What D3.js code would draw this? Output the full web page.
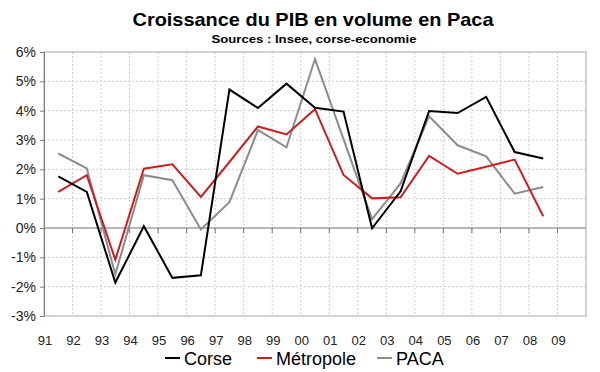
<!DOCTYPE html>
<html><head><meta charset="utf-8">
<script src="https://cdn.jsdelivr.net/npm/d3@7"></script>
<style>body{margin:0;background:#fff}svg{display:block}</style>
</head><body>
<svg id="c" width="600" height="372"></svg>
<script>
// ---- data ----
const years = ["91","92","93","94","95","96","97","98","99","00","01","02","03","04","05","06","07","08","09"];
const dataYears = ["91","92","93","94","95","96","97","98","99","00","01","02","03","04","05","06","07","08"];
const corse     = [1.76, 1.23, -1.86, 0.06, -1.70, -1.61, 4.72, 4.09, 4.92, 4.10, 3.97, -0.01, 1.25, 3.99, 3.92, 4.47, 2.59, 2.37];
const metropole = [1.23, 1.80, -1.08, 2.02, 2.17, 1.06, 2.25, 3.46, 3.19, 4.05, 1.81, 1.01, 1.05, 2.46, 1.85, 2.09, 2.33, 0.40];
const paca      = [2.54, 2.03, -1.58, 1.80, 1.63, -0.05, 0.88, 3.34, 2.75, 5.76, 3.03, 0.30, 1.52, 3.81, 2.82, 2.44, 1.17, 1.40];
const yTicks = [-3, -2, -1, 0, 1, 2, 3, 4, 5, 6];
const seriesNames = ["Corse", "Métropole", "PACA"];
const seriesColors = ["#000000", "#cc1f1f", "#8c8c8c"];
const title = "Croissance du PIB en volume en Paca";
const subtitle = "Sources : Insee, corse-economie";

// ---- layout ----
const svg = d3.select("#c");
const L = 44, R = 586, T = 52, B = 316;
const x = d3.scaleBand().domain(years).range([L, R]).padding(0);
const y = d3.scaleLinear().domain([-3, 6]).range([B, T]);
const font = "'Liberation Sans', Arial, sans-serif";

svg.append("rect").attr("width", 600).attr("height", 372).attr("fill", "#fff");

// grid
const g = svg.append("g");
g.selectAll("line.hg").data(yTicks.filter(d => d !== 0 && d !== -3 && d !== 6)).join("line")
  .attr("x1", L).attr("x2", R).attr("y1", d => y(d)).attr("y2", d => y(d))
  .attr("stroke", "#cccccc").attr("stroke-width", 1).attr("stroke-dasharray", "2,2");
g.selectAll("line.vg").data(years.slice(1)).join("line")
  .attr("x1", d => x(d)).attr("x2", d => x(d)).attr("y1", T).attr("y2", B)
  .attr("stroke", "#cccccc").attr("stroke-width", 1).attr("stroke-dasharray", "2,2");

// plot border
svg.append("rect").attr("x", L).attr("y", T).attr("width", R - L).attr("height", B - T)
  .attr("fill", "none").attr("stroke", "#a6a6a6").attr("stroke-width", 1);

// y axis
const yAxis = svg.append("g").attr("transform", `translate(${L},0)`)
  .call(d3.axisLeft(y).tickValues(yTicks).tickSize(4).tickFormat(d => d + "%"));
yAxis.select(".domain").attr("stroke", "#808080");
yAxis.selectAll(".tick line").attr("stroke", "#808080");
yAxis.selectAll("text").attr("font-family", font).attr("font-size", 14).attr("fill", "#222").attr("dx", -1);

// zero line with ticks
svg.append("line").attr("x1", L).attr("x2", R).attr("y1", y(0)).attr("y2", y(0))
  .attr("stroke", "#707070").attr("stroke-width", 1.2);
svg.selectAll("line.xt").data(years.slice(1)).join("line")
  .attr("x1", d => x(d)).attr("x2", d => x(d)).attr("y1", y(0)).attr("y2", y(0) + 5)
  .attr("stroke", "#707070").attr("stroke-width", 1);

// x labels
svg.selectAll("text.xl").data(years).join("text")
  .attr("x", d => x(d) + 1).attr("y", 345)
  .attr("text-anchor", "middle").attr("font-family", font).attr("font-size", 13).attr("fill", "#222")
  .text(d => d);

// lines
const allSeries = [corse, metropole, paca];
const line = d3.line().x((d, i) => x(dataYears[i]) + x.bandwidth() / 2).y(d => y(d));
[2, 1, 0].forEach(k => {
  svg.append("path").datum(allSeries[k]).attr("d", line)
    .attr("fill", "none").attr("stroke", seriesColors[k]).attr("stroke-width", 2)
    .attr("stroke-linejoin", "miter");
});

// title
svg.append("text").attr("x", 313).attr("y", 25.7).attr("text-anchor", "middle")
  .attr("font-family", font).attr("font-weight", "bold").attr("font-size", 19).attr("fill", "#000")
  .attr("textLength", 361).attr("lengthAdjust", "spacingAndGlyphs")
  .text(title);
svg.append("text").attr("x", 314).attr("y", 42.5).attr("text-anchor", "middle")
  .attr("font-family", font).attr("font-weight", "bold").attr("font-size", 11).attr("fill", "#000")
  .attr("textLength", 205).attr("lengthAdjust", "spacingAndGlyphs")
  .text(subtitle);

// legend
const legX = [165, 257, 377];
const leg = svg.selectAll("g.leg").data(seriesNames).join("g")
  .attr("transform", (d, i) => `translate(${legX[i]},358)`);
leg.append("line").attr("x1", 0).attr("x2", 15).attr("y1", 0).attr("y2", 0)
  .attr("stroke", (d, i) => seriesColors[i]).attr("stroke-width", 2);
leg.append("text").attr("x", 19).attr("y", 6.5).attr("font-family", font).attr("font-size", 18)
  .attr("fill", "#000").text(d => d);
</script>
</body></html>
